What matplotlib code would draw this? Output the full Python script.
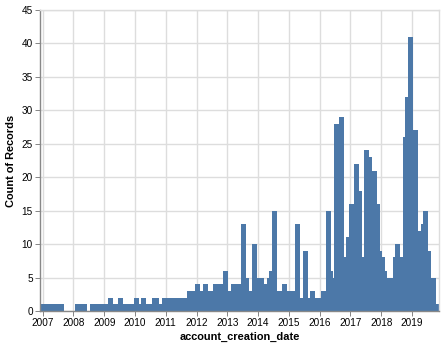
import pandas as pd
import matplotlib
matplotlib.use("Agg")
import matplotlib.pyplot as plt
import matplotlib.dates as mdates

plt.rcParams['font.family'] = ['Liberation Sans', 'DejaVu Sans']

# monthly counts of account creations (Jan..Dec)
years = [2007, 2008, 2009, 2010, 2011, 2012, 2013, 2014, 2015, 2016, 2017, 2018, 2019]
counts_2007 = [1, 1, 1, 1, 1, 1, 1, 1, 0, 0, 0, 0]
counts_2008 = [0, 1, 1, 1, 1, 0, 0, 1, 1, 1, 1, 1]
counts_2009 = [1, 1, 2, 1, 1, 1, 2, 1, 1, 1, 1, 1]
counts_2010 = [2, 1, 1, 2, 1, 1, 1, 2, 2, 1, 1, 2]
counts_2011 = [2, 2, 2, 2, 2, 2, 2, 2, 2, 3, 3, 3]
counts_2012 = [4, 3, 3, 4, 3, 3, 3, 4, 4, 4, 4, 6]
counts_2013 = [3, 3, 4, 4, 4, 4, 13, 5, 3, 3, 10, 5]
counts_2014 = [5, 5, 4, 4, 5, 6, 15, 3, 3, 3, 4, 3]
counts_2015 = [3, 3, 3, 13, 2, 2, 9, 2, 2, 3, 2, 2]
counts_2016 = [2, 3, 3, 15, 6, 5, 28, 28, 29, 4, 8, 11]
counts_2017 = [16, 16, 22, 18, 8, 8, 24, 23, 21, 21, 16, 9]
counts_2018 = [8, 6, 5, 5, 5, 8, 10, 8, 8, 26, 32, 41]
counts_2019 = [27, 27, 12, 11, 13, 15, 9, 5, 5, 1]
counts_by_year = [counts_2007, counts_2008, counts_2009, counts_2010, counts_2011,
                  counts_2012, counts_2013, counts_2014, counts_2015, counts_2016,
                  counts_2017, counts_2018, counts_2019]

dates = []
counts = []
for year, row in zip(years, counts_by_year):
    for i, c in enumerate(row):
        dates.append(pd.Timestamp(year, i + 1, 15))
        counts.append(c)

xmin = pd.Timestamp(2006, 11, 30)
xmax = pd.Timestamp(2019, 11, 19)
plot_w_px = 399
bar_w = 5 * (xmax - xmin).days / plot_w_px  # vega-lite style 5px bars

fig = plt.figure(figsize=(4.44, 3.47), dpi=100)
ax = fig.add_axes([40 / 444, 36 / 347, plot_w_px / 444, 301 / 347])

ax.bar(dates, counts, width=bar_w, color='#4c78a8', linewidth=0, align='center', zorder=2)

ax.set_xlim(xmin, xmax)
ax.set_ylim(0, 45)
ax.set_yticks(range(0, 46, 5))
ax.set_xticks([pd.Timestamp(y, 1, 1) for y in years])
ax.xaxis.set_major_formatter(mdates.DateFormatter('%Y'))

ax.set_axisbelow(True)
ax.grid(True, color='#dddddd', linewidth=1, zorder=0)

for side in ['left', 'bottom']:
    ax.spines[side].set_color('#888888')
    ax.spines[side].set_linewidth(1)
for side in ['top', 'right']:
    ax.spines[side].set_color('#dddddd')
    ax.spines[side].set_linewidth(1)

ax.tick_params(axis='both', length=3.6, width=0.72, color='#888888',
               labelsize=7.2, labelcolor='#000000', pad=1.5)

ax.set_xlabel('account_creation_date', fontsize=7.9, fontweight='bold', labelpad=3)
ax.set_ylabel('Count of Records', fontsize=7.9, fontweight='bold', labelpad=4)

fig.savefig('out.png', dpi=100)
